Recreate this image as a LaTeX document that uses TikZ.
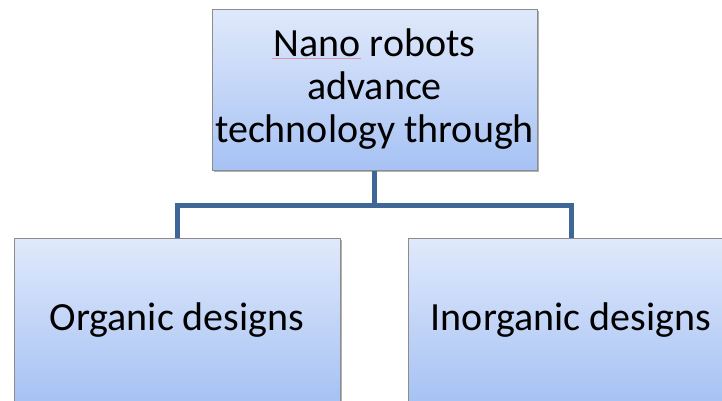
\documentclass[tikz,border=0pt]{standalone}
\usepackage{fontspec}
\setmainfont{Carlito}
\usetikzlibrary{shadows}
\definecolor{boxtop}{RGB}{224,233,251}
\definecolor{boxbot}{RGB}{166,194,244}
\definecolor{boxline}{RGB}{140,140,140}
\definecolor{connc}{RGB}{62,102,150}
\definecolor{spell}{RGB}{220,150,170}
\begin{document}
\begin{tikzpicture}[x=1pt,y=-1pt,
  box/.style={draw=boxline, line width=1pt, top color=boxtop, bottom color=boxbot,
    drop shadow={shadow xshift=2pt, shadow yshift=-2pt, opacity=0.3, fill=black},
    align=center, font=\fontsize{40}{43}\selectfont, inner sep=0pt},
  conn/.style={draw=connc, line width=5pt}]
\useasboundingbox (0,0) rectangle (722,400);
\node[box, minimum width=325pt, minimum height=161pt] (top) at (374.5,89.5)
  {Nano robots\\advance\\technology through};
\node[box, minimum width=326pt, minimum height=164pt] (left) at (177,320) {Organic designs};
\node[box, minimum width=326pt, minimum height=164pt] (right) at (571,320) {Inorganic designs};
\coordinate (junc) at (374.5,205.5);
\draw[conn] (top.south) -- (junc);
\draw[conn] (junc) -| (left.north);
\draw[conn] (junc) -| (right.north);
\coordinate (sp1) at (272,58);
\coordinate (sp2) at (361,58);
\draw[spell, line width=0.8pt] (sp1) -- (sp2);
\end{tikzpicture}
\end{document}
